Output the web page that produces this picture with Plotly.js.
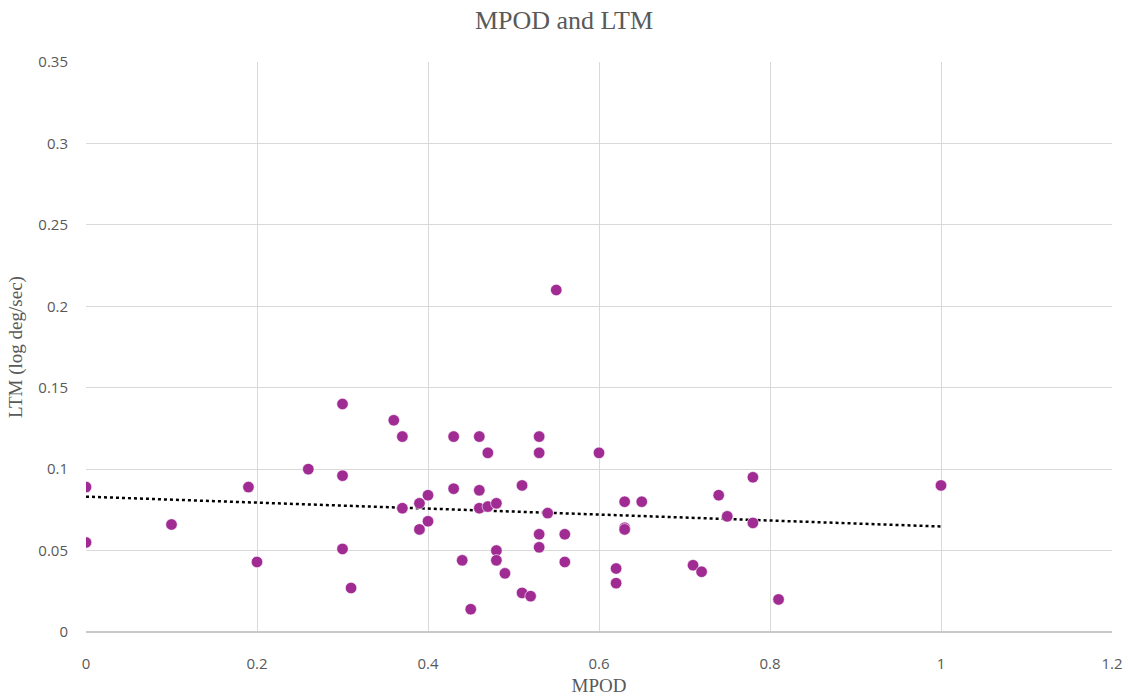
<!DOCTYPE html>
<html>
<head>
<meta charset="utf-8">
<script src="https://cdn.plot.ly/plotly-3.0.1.min.js"></script>
<style>html,body{margin:0;padding:0;background:#fff;}#chart{width:1128px;height:698px;}</style>
</head>
<body>
<div id="chart"></div>
<script>
const mpod = [0, 0, 0.1, 0.19, 0.2, 0.26, 0.3, 0.3, 0.3, 0.31, 0.36, 0.37, 0.37, 0.39, 0.39, 0.4, 0.4,
  0.43, 0.43, 0.44, 0.45, 0.46, 0.46, 0.46, 0.47, 0.47, 0.48, 0.48, 0.48, 0.49, 0.51, 0.51, 0.52,
  0.53, 0.53, 0.53, 0.53, 0.54, 0.55, 0.56, 0.56, 0.6, 0.62, 0.62, 0.63, 0.63, 0.63, 0.65,
  0.71, 0.72, 0.74, 0.75, 0.78, 0.78, 0.81, 1.0];
const ltm = [0.089, 0.055, 0.066, 0.089, 0.043, 0.1, 0.14, 0.096, 0.051, 0.027, 0.13, 0.12, 0.076, 0.079, 0.063, 0.084, 0.068,
  0.12, 0.088, 0.044, 0.014, 0.12, 0.087, 0.076, 0.11, 0.077, 0.079, 0.05, 0.044, 0.036, 0.09, 0.024, 0.022,
  0.12, 0.11, 0.06, 0.052, 0.073, 0.21, 0.06, 0.043, 0.11, 0.039, 0.03, 0.08, 0.064, 0.063, 0.08,
  0.041, 0.037, 0.084, 0.071, 0.095, 0.067, 0.02, 0.09];

// Linear least-squares trendline (as in the spreadsheet's linear trendline)
const n = mpod.length;
const mx = mpod.reduce((a,b)=>a+b,0)/n;
const my = ltm.reduce((a,b)=>a+b,0)/n;
let sxy = 0, sxx = 0;
for (let i=0;i<n;i++){ sxy += (mpod[i]-mx)*(ltm[i]-my); sxx += (mpod[i]-mx)**2; }
const slope = sxy/sxx, intercept = my - slope*mx;
const xMin = Math.min(...mpod), xMax = Math.max(...mpod);
const trendX = [xMin, xMax];
const trendY = trendX.map(x => intercept + slope*x);

const serif = '"Liberation Serif", "DejaVu Serif", serif';
const sans = '"Open Sans", "Liberation Sans", sans-serif';

const data = [
  {
    x: trendX, y: trendY, type: 'scatter', mode: 'lines',
    line: {color: '#000000', width: 2.5, dash: 'dot'},
    hoverinfo: 'skip', showlegend: false
  },
  {
    x: mpod, y: ltm, type: 'scatter', mode: 'markers',
    marker: {color: '#A02B93', size: 11.5, line: {color: '#ffffff', width: 0.6}},
    showlegend: false
  }
];

const layout = {
  width: 1128, height: 698,
  paper_bgcolor: '#ffffff', plot_bgcolor: '#ffffff',
  margin: {l: 86, r: 16, t: 62, b: 66},
  title: {text: 'MPOD and LTM', font: {family: serif, size: 26, color: '#595959'}, x: 0.5, xanchor: 'center', y: 0.971, yanchor: 'middle'},
  xaxis: {
    range: [0, 1.2], dtick: 0.2, tick0: 0,
    showgrid: true, gridcolor: '#d9d9d9', gridwidth: 1,
    zeroline: false, showline: false,
    ticks: 'outside', ticklen: 18, tickcolor: 'rgba(0,0,0,0)',
    tickfont: {family: sans, size: 15, color: '#595959'},
    title: {text: 'MPOD', font: {family: serif, size: 19, color: '#595959'}, standoff: 6}
  },
  yaxis: {
    range: [0, 0.35], dtick: 0.05, tick0: 0,
    showgrid: true, gridcolor: '#d9d9d9', gridwidth: 1,
    zeroline: true, zerolinecolor: '#c8c8c8', zerolinewidth: 2,
    showline: false, ticks: 'outside', ticklen: 14, tickcolor: 'rgba(0,0,0,0)',
    tickfont: {family: sans, size: 15, color: '#595959'},
    title: {text: 'LTM (log deg/sec)', font: {family: serif, size: 19, color: '#595959'}, standoff: 10}
  },
  showlegend: false
};

Plotly.newPlot('chart', data, layout, {displayModeBar: false, responsive: false});
</script>
</body>
</html>
